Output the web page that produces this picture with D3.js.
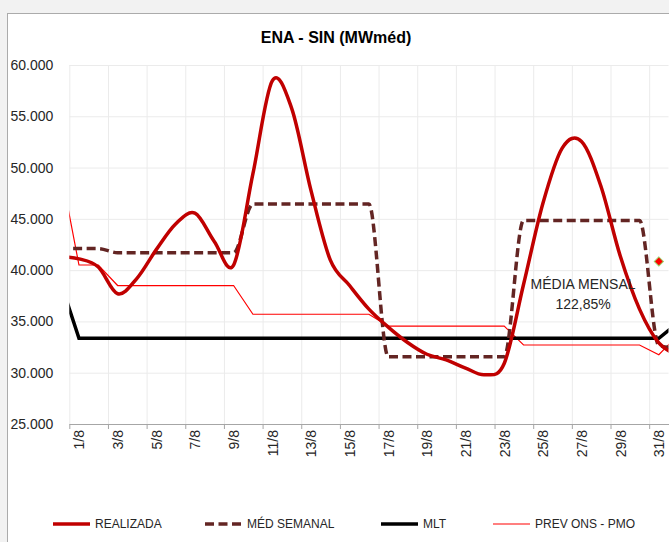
<!DOCTYPE html>
<html>
<head>
<meta charset="utf-8">
<script src="https://cdn.jsdelivr.net/npm/d3@7"></script>
<style>
  body { margin: 0; background: #f2f2f2; }
  svg { display: block; font-family: "Liberation Sans", Arial, sans-serif; }
</style>
</head>
<body>
<div id="chart"></div>
<script>
// categorias: 31/7 e 1/9 ficam fora da área (recortadas), como no Excel
var dias = ["31/7",
    "1/8", "2/8", "3/8", "4/8", "5/8", "6/8", "7/8", "8/8", "9/8", "10/8",
    "11/8", "12/8", "13/8", "14/8", "15/8", "16/8", "17/8", "18/8", "19/8", "20/8",
    "21/8", "22/8", "23/8", "24/8", "25/8", "26/8", "27/8", "28/8", "29/8", "30/8",
    "31/8", "1/9"];

var realizada = [41300,
    41100, 40300, 37700, 39200, 42000, 44500, 45550, 42800, 40500, 49400,
    58450, 55800, 47800, 41000, 38500, 36200, 34450, 32950, 31800, 31250,
    30450, 29800, 30900, 38600, 46500, 51900, 52550, 48200, 41400, 36200,
    32900, 31700];

var medSemanal = [42100,
    42100, 42100, 41700, 41700, 41700, 41700, 41700, 41700, 41700, 46450,
    46450, 46450, 46450, 46450, 46450, 46450, 31550, 31550, 31550, 31550,
    31550, 31550, 31550, 44850, 44850, 44850, 44850, 44850, 44850, 44850,
    32650, 32400];

var mlt = [39100,
    33350, 33350, 33350, 33350, 33350, 33350, 33350, 33350, 33350, 33350,
    33350, 33350, 33350, 33350, 33350, 33350, 33350, 33350, 33350, 33350,
    33350, 33350, 33350, 33350, 33350, 33350, 33350, 33350, 33350, 33350,
    33350, 34900];

var prevOns = [50300,
    40500, 40500, 38500, 38500, 38500, 38500, 38500, 38500, 38500, 35700,
    35700, 35700, 35700, 35700, 35700, 35700, 34550, 34550, 34550, 34550,
    34550, 34550, 34550, 32700, 32700, 32700, 32700, 32700, 32700, 32700,
    31750, 33700];

// ponto isolado (losango) no dia 31
var pontoDia = [31];
var pontoValor = [40850];

var yTicks = [25000, 30000, 35000, 40000, 45000, 50000, 55000, 60000];
var labelDias = [1, 3, 5, 7, 9, 11, 13, 15, 17, 19, 21, 23, 25, 27, 29, 31];

var mediaMensal = ["MÉDIA MENSAL", "122,85%"];

var W = 669, H = 542;
var plotL = 69.3, plotR = 668.5, plotT = 65, plotB = 424;

var svg = d3.select("#chart").append("svg")
    .attr("width", W)
    .attr("height", H);

// area do grafico (borda)
svg.append("rect")
    .attr("x", 7.5).attr("y", 13.5)
    .attr("width", W).attr("height", H)
    .attr("fill", "#fff")
    .attr("stroke", "#ababab");

var x = d3.scaleLinear().domain([0.5, 31.5]).range([plotL, plotR]);
var y = d3.scaleLinear().domain([25000, 60000]).range([plotB, plotT]);

var loc = d3.formatLocale({ decimal: ",", thousands: ".", grouping: [3], currency: ["R$", ""] });
var fmt = loc.format(",.0f");

// grade horizontal
svg.append("g")
    .attr("transform", "translate(" + plotL + ",0)")
    .call(d3.axisLeft(y).tickValues(yTicks).tickSize(-(plotR - plotL)).tickFormat(""))
    .call(function(g) {
        g.select(".domain").remove();
        g.selectAll("line").attr("stroke", "#ebebeb");
    });

// grade vertical
var tickPos = labelDias.map(function(d) { return d - 0.5; });
svg.append("g")
    .attr("transform", "translate(0," + plotB + ")")
    .call(d3.axisBottom(x).tickValues(tickPos).tickSize(-(plotB - plotT)).tickFormat(""))
    .call(function(g) {
        g.select(".domain").remove();
        g.selectAll("line").attr("stroke", "#ebebeb");
    });

// rotulos eixo y
svg.append("g")
    .attr("transform", "translate(" + plotL + ",0)")
    .call(d3.axisLeft(y).tickValues(yTicks).tickSize(0).tickPadding(16).tickFormat(fmt))
    .call(function(g) {
        g.select(".domain").remove();
        g.selectAll("text")
            .attr("font-size", "14px")
            .attr("fill", "#262626")
            .attr("font-family", "Liberation Sans, Arial, sans-serif");
    });

// eixo x (linha e marcas)
svg.append("g")
    .attr("transform", "translate(0," + plotB + ")")
    .call(d3.axisBottom(x).tickValues(tickPos).tickSize(5).tickSizeOuter(0).tickFormat(""))
    .call(function(g) {
        g.select(".domain").attr("stroke", "#a6a6a6");
        g.selectAll("line").attr("stroke", "#a6a6a6");
    });

// rotulos eixo x
svg.append("g")
    .attr("transform", "translate(0," + plotB + ")")
    .call(d3.axisBottom(x).tickValues(labelDias).tickSize(0).tickFormat(function(d) { return dias[d]; }))
    .call(function(g) {
        g.select(".domain").remove();
        g.selectAll("text")
            .attr("font-size", "14px")
            .attr("fill", "#262626")
            .attr("font-family", "Liberation Sans, Arial, sans-serif")
            .attr("text-anchor", "end")
            .attr("transform", "rotate(-90)")
            .attr("x", -6)
            .attr("y", 0)
            .attr("dy", "0.35em");
    });

// recorte da area de plotagem
svg.append("clipPath").attr("id", "plot")
    .append("rect")
    .attr("x", plotL).attr("y", 0)
    .attr("width", plotR - plotL).attr("height", H);

var plot = svg.append("g").attr("clip-path", "url(#plot)");

function linha(curve) {
    return d3.line()
        .x(function(d, i) { return x(i); })
        .y(function(d) { return y(d); })
        .curve(curve);
}

plot.append("path")
    .datum(prevOns)
    .attr("d", linha(d3.curveLinear))
    .attr("fill", "none")
    .attr("stroke", "#ff0000")
    .attr("stroke-width", 1.2);

plot.append("path")
    .datum(mlt)
    .attr("d", linha(d3.curveLinear))
    .attr("fill", "none")
    .attr("stroke", "#000")
    .attr("stroke-width", 3.5);

plot.append("path")
    .datum(medSemanal)
    .attr("d", linha(d3.curveMonotoneX))
    .attr("fill", "none")
    .attr("stroke", "#632523")
    .attr("stroke-width", 3.5)
    .attr("stroke-dasharray", "9,4.5");

plot.append("path")
    .datum(realizada)
    .attr("d", linha(d3.curveCardinal.tension(0)))
    .attr("fill", "none")
    .attr("stroke", "#c00000")
    .attr("stroke-width", 3.5);

// losango
plot.selectAll(".ponto")
    .data(pontoDia)
    .enter().append("path")
    .attr("class", "ponto")
    .attr("d", d3.symbol(d3.symbolSquare, 42)())
    .attr("transform", function(d, i) {
        return "translate(" + x(d) + "," + y(pontoValor[i]) + ") rotate(45)";
    })
    .attr("fill", "#ff0000")
    .attr("stroke", "#9bd36a")
    .attr("stroke-width", 1);

// texto media mensal
svg.append("text")
    .attr("x", x(27.08))
    .attr("y", y(37800))
    .attr("text-anchor", "middle")
    .attr("font-size", "14px")
    .attr("fill", "#262626")
    .selectAll("tspan")
    .data(mediaMensal)
    .enter().append("tspan")
    .attr("x", x(27.08))
    .attr("dy", function(d, i) { return i === 0 ? "-0.3em" : "1.45em"; })
    .text(function(d) { return d; });

// titulo
svg.append("text")
    .attr("x", 336)
    .attr("y", 43)
    .attr("text-anchor", "middle")
    .attr("font-size", "16px")
    .attr("font-weight", "bold")
    .attr("fill", "#000")
    .text("ENA - SIN (MWméd)");

// legenda
var legenda = [
    { nome: "REALIZADA", cor: "#c00000", w: 3.5, dash: null, x: 53 },
    { nome: "MÉD SEMANAL", cor: "#632523", w: 3.5, dash: "9,4.5", x: 205 },
    { nome: "MLT", cor: "#000", w: 3.5, dash: null, x: 381 },
    { nome: "PREV ONS - PMO", cor: "#ff0000", w: 1.2, dash: null, x: 493 }
];

var lg = svg.append("g").selectAll("g")
    .data(legenda)
    .enter().append("g")
    .attr("transform", function(d) { return "translate(" + d.x + ",524)"; });

lg.append("line")
    .attr("x1", 0).attr("x2", 37)
    .attr("stroke", function(d) { return d.cor; })
    .attr("stroke-width", function(d) { return d.w; })
    .attr("stroke-dasharray", function(d) { return d.dash; });

lg.append("text")
    .attr("x", 42)
    .attr("dy", "0.35em")
    .attr("font-size", "12px")
    .attr("fill", "#262626")
    .text(function(d) { return d.nome; });
</script>
</body>
</html>
